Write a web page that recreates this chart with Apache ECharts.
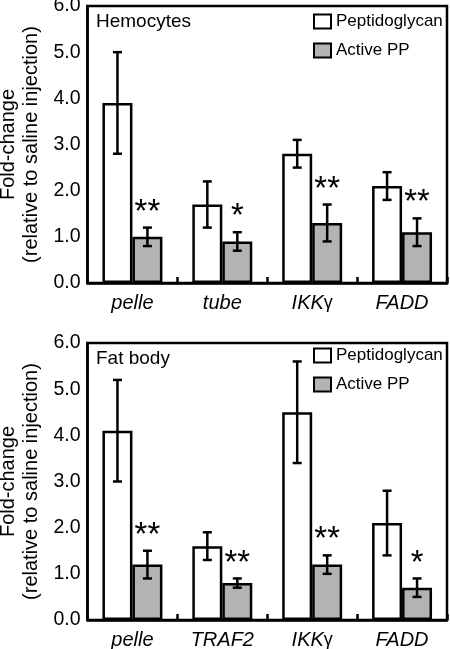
<!DOCTYPE html>
<html>
<head>
<meta charset="utf-8">
<script src="https://cdn.jsdelivr.net/npm/echarts@6/dist/echarts.min.js"></script>
<style>html,body{margin:0;padding:0;background:#fff}#c{width:450px;height:649px}</style>
</head>
<body>
<div id="c"></div>
<script>
const yTicks = [0, 1, 2, 3, 4, 5, 6];
const seriesNames = ['Peptidoglycan', 'Active PP'];
const panelTitles = ['Hemocytes', 'Fat body'];

const catsTop = ['pelle', 'tube', 'IKKγ', 'FADD'];
const pgTop = [3.9, 1.7, 2.8, 2.1];
const pgTopErr = [1.1, 0.5, 0.3, 0.3];
const ppTop = [1.0, 0.9, 1.3, 1.1];
const ppTopErr = [0.2, 0.2, 0.4, 0.3];
const starsTop = ['**', '*', '**', '**'];

const catsBot = ['pelle', 'TRAF2', 'IKKγ', 'FADD'];
const pgBot = [4.1, 1.6, 4.5, 2.1];
const pgBotErr = [1.1, 0.3, 1.1, 0.7];
const ppBot = [1.2, 0.8, 1.2, 0.7];
const ppBotErr = [0.3, 0.1, 0.2, 0.2];
const starsBot = ['**', '**', '**', '*'];

const FONT = 'Liberation Sans, Arial, sans-serif';
const GAP = 0.333;

function errData(vals, errs) {
  return vals.map((v, i) => [i, v - errs[i], v + errs[i]]);
}

function errSeries(gi, vals, errs, stars, side) {
  return {
    type: 'custom', xAxisIndex: gi, yAxisIndex: gi, z: 10, silent: true,
    data: errData(vals, errs),
    renderItem: function (params, api) {
      const ci = api.value(0), lo = api.value(1), hi = api.value(2);
      const band = api.size([1, 0])[0];
      const bw = band * (1 - GAP) / 2;
      const xc = api.coord([ci, 0])[0] + side * bw / 2;
      const yLo = api.coord([ci, lo])[1];
      const yHi = api.coord([ci, hi])[1];
      const st = { stroke: '#000', lineWidth: 2.5 };
      const cw = 4.5;
      const children = [
        { type: 'line', shape: { x1: xc, y1: yHi, x2: xc, y2: yLo }, style: st },
        { type: 'line', shape: { x1: xc - cw, y1: yHi, x2: xc + cw, y2: yHi }, style: st },
        { type: 'line', shape: { x1: xc - cw, y1: yLo, x2: xc + cw, y2: yLo }, style: st }
      ];
      if (stars) {
        children.push({
          type: 'text',
          style: { text: stars[params.dataIndex], x: xc, y: yHi - 15, align: 'center', verticalAlign: 'middle',
                   fontSize: 33, fontFamily: FONT, fill: '#000' }
        });
      }
      return { type: 'group', children: children };
    }
  };
}

function barSeries(gi, name, vals, color) {
  return {
    type: 'bar', name: name, xAxisIndex: gi, yAxisIndex: gi,
    data: vals, barGap: '0%', barCategoryGap: '33.3%',
    itemStyle: { color: color, borderColor: '#000', borderWidth: 2.5 }
  };
}

function xAxis(gi, cats) {
  return {
    type: 'category', gridIndex: gi, data: cats,
    axisLine: { lineStyle: { color: '#000', width: 2.5 } },
    axisTick: { show: true, inside: true, length: 6, lineStyle: { color: '#000', width: 2.5 } },
    axisLabel: {
      margin: 10, color: '#000',
      formatter: v => v === 'IKKγ' ? '{i|IKK}{g|γ}' : '{i|' + v + '}',
      rich: {
        i: { fontSize: 20, fontStyle: 'italic', fontFamily: FONT, color: '#000' },
        g: { fontSize: 18, fontStyle: 'normal', fontFamily: FONT, color: '#000' }
      }
    }
  };
}

function yAxis(gi) {
  return {
    type: 'value', gridIndex: gi, min: yTicks[0], max: yTicks[yTicks.length - 1], interval: 1,
    name: 'Fold-change\n(relative to saline injection)', nameLocation: 'middle', nameGap: 37,
    nameTextStyle: { fontSize: 20, lineHeight: 23, color: '#000', fontFamily: FONT },
    axisLine: { show: true, lineStyle: { color: '#000', width: 2.5 } },
    axisTick: { show: false },
    splitLine: { show: false },
    axisLabel: { fontSize: 19.5, color: '#000', fontFamily: FONT, margin: 7, formatter: v => v.toFixed(1) }
  };
}

const chart = echarts.init(document.getElementById('c'), null, { renderer: 'canvas' });
chart.setOption({
  animation: false,
  backgroundColor: '#fff',
  textStyle: { fontFamily: FONT },
  title: [
    { text: panelTitles[0], left: 96, top: 12, padding: 0, textStyle: { fontSize: 19, fontWeight: 'normal', color: '#000', fontFamily: FONT } },
    { text: panelTitles[1], left: 96, top: 349, padding: 0, textStyle: { fontSize: 19, fontWeight: 'normal', color: '#000', fontFamily: FONT } }
  ],
  legend: [
    { data: seriesNames, orient: 'vertical', left: 313, top: 13, padding: 0, itemWidth: 17, itemHeight: 14, itemGap: 12,
      icon: 'rect', textStyle: { fontSize: 17, color: '#000', fontFamily: FONT } },
    { data: seriesNames, orient: 'vertical', left: 313, top: 347, padding: 0, itemWidth: 17, itemHeight: 14, itemGap: 12,
      icon: 'rect', textStyle: { fontSize: 17, color: '#000', fontFamily: FONT } }
  ],
  grid: [
    { left: 87.5, top: 6, width: 359.5, height: 277, show: true, borderColor: '#000', borderWidth: 2.5, backgroundColor: 'transparent', outerBoundsMode: 'none', containLabel: false },
    { left: 87.5, top: 343, width: 359.5, height: 277, show: true, borderColor: '#000', borderWidth: 2.5, backgroundColor: 'transparent', outerBoundsMode: 'none', containLabel: false }
  ],
  xAxis: [xAxis(0, catsTop), xAxis(1, catsBot)],
  yAxis: [yAxis(0), yAxis(1)],
  series: [
    barSeries(0, seriesNames[0], pgTop, '#ffffff'),
    barSeries(0, seriesNames[1], ppTop, '#b3b3b3'),
    barSeries(1, seriesNames[0], pgBot, '#ffffff'),
    barSeries(1, seriesNames[1], ppBot, '#b3b3b3'),
    errSeries(0, pgTop, pgTopErr, null, -1),
    errSeries(0, ppTop, ppTopErr, starsTop, 1),
    errSeries(1, pgBot, pgBotErr, null, -1),
    errSeries(1, ppBot, ppBotErr, starsBot, 1)
  ]
});
</script>
</body>
</html>
